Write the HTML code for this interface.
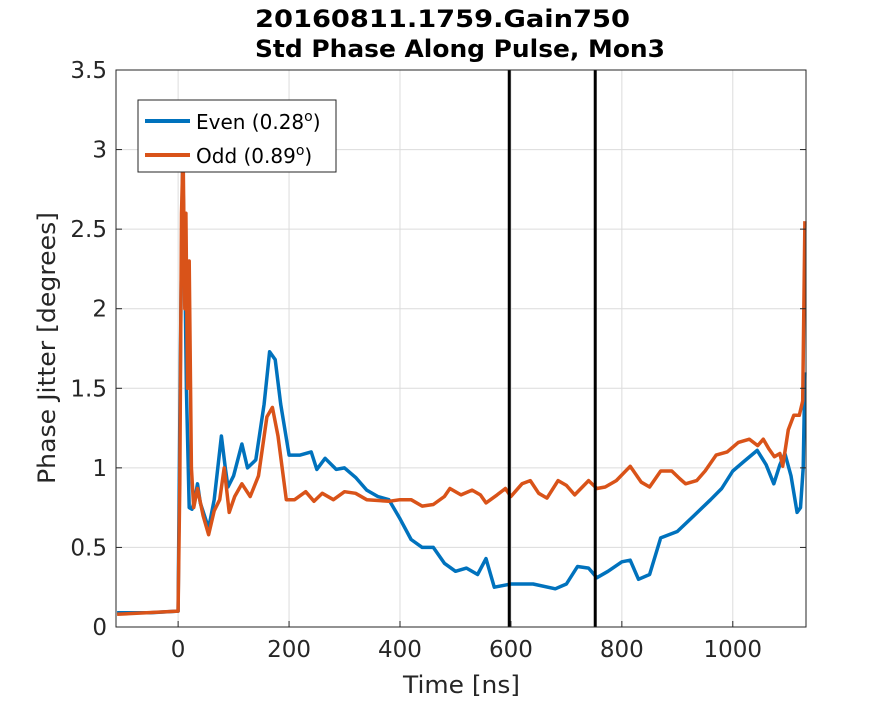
<!DOCTYPE html>
<html><head><meta charset="utf-8"><style>
body{margin:0;background:#fff;font-family:"DejaVu Sans","Liberation Sans",sans-serif}
svg text{font-family:"DejaVu Sans","Liberation Sans",sans-serif}
</style></head><body>
<svg id="chart" width="891" height="703" viewBox="0 0 891 703" xmlns="http://www.w3.org/2000/svg">
<rect width="891" height="703" fill="#fff"/>
<g id="grid"></g>
<g id="marks"></g>
<rect x="116" y="70" width="690" height="557" fill="none" stroke="#262626" stroke-width="1"/>
<g id="ticks"></g>
<text x="255" y="27" textLength="375" lengthAdjust="spacingAndGlyphs" font-size="24" font-weight="bold" fill="#000">20160811.1759.Gain750</text>
<text x="255" y="57" textLength="410" lengthAdjust="spacingAndGlyphs" font-size="24" font-weight="bold" fill="#000">Std Phase Along Pulse, Mon3</text>
<text x="403" y="693" textLength="117" lengthAdjust="spacingAndGlyphs" font-size="24" fill="#262626">Time [ns]</text>
<text transform="translate(55,484) rotate(-90)" textLength="272" lengthAdjust="spacingAndGlyphs" font-size="24" fill="#262626">Phase Jitter [degrees]</text>
<g>
<rect x="138" y="100" width="198" height="72" fill="#fff" stroke="#262626" stroke-width="1"/>
<line x1="145" y1="121" x2="190" y2="121" stroke="#0072BD" stroke-width="4"/>
<text x="196" y="129" font-size="20" fill="#000">Even (0.28<tspan dy="-8" font-size="14">o</tspan><tspan dy="8">)</tspan></text>
<line x1="145" y1="155" x2="190" y2="155" stroke="#D95319" stroke-width="4"/>
<text x="196" y="163" font-size="20" fill="#000">Odd (0.89<tspan dy="-8" font-size="14">o</tspan><tspan dy="8">)</tspan></text>
</g>
</svg>
<script>
const xTicks=[0,200,400,600,800,1000];
const yTicks=[0,0.5,1,1.5,2,2.5,3,3.5];
const yTickLabels=["0","0.5","1","1.5","2","2.5","3","3.5"];
const markerLines=[597,752];
const evenT=[-110,-50,0,3,5,8,12,15,20,25,30,35,40,55,65,78,85,90,100,115,125,140,155,165,175,185,200,220,240,250,265,285,300,320,340,360,380,400,420,440,460,480,500,520,540,555,570,600,640,680,700,720,740,755,775,800,815,830,850,870,900,930,960,980,1000,1020,1044,1060,1074,1085,1094,1105,1116,1122,1127,1130];
const evenV=[0.09,0.09,0.10,1.3,2.0,2.9,2.3,1.5,0.75,0.74,0.8,0.9,0.78,0.62,0.8,1.2,1.0,0.88,0.95,1.15,1.0,1.05,1.4,1.73,1.68,1.4,1.08,1.08,1.1,0.99,1.06,0.99,1.0,0.94,0.86,0.82,0.80,0.68,0.55,0.50,0.50,0.40,0.35,0.37,0.33,0.43,0.25,0.27,0.27,0.24,0.27,0.38,0.37,0.31,0.35,0.41,0.42,0.30,0.33,0.56,0.60,0.70,0.80,0.87,0.98,1.04,1.11,1.02,0.90,1.02,1.09,0.95,0.72,0.75,1.0,1.6];
const oddT=[-110,0,3,6,9,12,14,17,20,24,28,35,45,55,65,75,83,92,102,115,130,145,160,170,180,195,210,230,245,260,280,300,320,340,380,400,420,440,460,480,490,510,530,545,555,575,590,600,620,635,650,665,685,700,715,740,755,770,790,815,835,850,870,890,905,915,935,950,970,990,1010,1030,1045,1055,1065,1075,1085,1090,1100,1110,1120,1126,1130];
const oddV=[0.08,0.10,0.9,2.6,3.0,2.0,2.6,1.5,2.3,1.0,0.75,0.87,0.7,0.58,0.73,0.8,1.0,0.72,0.82,0.90,0.82,0.95,1.32,1.38,1.2,0.80,0.8,0.85,0.79,0.84,0.80,0.85,0.84,0.80,0.79,0.80,0.80,0.76,0.77,0.82,0.87,0.83,0.86,0.83,0.78,0.83,0.87,0.82,0.90,0.92,0.84,0.81,0.92,0.89,0.83,0.92,0.87,0.88,0.92,1.01,0.91,0.88,0.98,0.98,0.93,0.90,0.92,0.98,1.08,1.10,1.16,1.18,1.14,1.18,1.12,1.07,1.09,1.01,1.24,1.33,1.33,1.42,2.55];
const X0=116,X1=806,Y0=627,Y1=70,TMIN=-112,TMAX=1132,VMAX=3.5;
const xs=t=>X0+(t-TMIN)/(TMAX-TMIN)*(X1-X0);
const ys=v=>Y0-v/VMAX*(Y0-Y1);
const NS="http://www.w3.org/2000/svg";
function mk(tag,attrs,parent){const e=document.createElementNS(NS,tag);for(const k in attrs)e.setAttribute(k,attrs[k]);parent.appendChild(e);return e;}
const grid=document.getElementById('grid'),ticks=document.getElementById('ticks'),marks=document.getElementById('marks');
xTicks.forEach(t=>{
  const l=mk('line',{x1:xs(t),x2:xs(t),y1:Y1,y2:Y0,stroke:'#dcdcdc','stroke-width':1},grid);
  
  
  mk('line',{x1:xs(t),x2:xs(t),y1:Y0,y2:Y0-6,stroke:'#262626'},ticks);
  const tx=mk('text',{x:xs(t),y:Y0+30,'text-anchor':'middle','font-size':23,fill:'#262626'},ticks);
  tx.textContent=String(t);
  
  
});
yTicks.forEach((v,i)=>{
  const l=mk('line',{x1:X0,x2:X1,y1:ys(v),y2:ys(v),stroke:'#dcdcdc','stroke-width':1},grid);
  
  
  mk('line',{x1:X0,x2:X0+6,y1:ys(v),y2:ys(v),stroke:'#262626'},ticks);
  mk('line',{x1:X1,x2:X1-6,y1:ys(v),y2:ys(v),stroke:'#262626'},ticks);
  const tx=mk('text',{x:X0-9,y:ys(v)+8,'text-anchor':'end','font-size':23,fill:'#262626'},ticks);
  tx.textContent=yTickLabels[i];
  
  
});
function series(T,V,color,name){
  const d=T.map((t,i)=>(i?'L':'M')+xs(t).toFixed(1)+','+ys(V[i]).toFixed(1)).join(' ');
  const p=mk('path',{d:d,fill:'none',stroke:color,'stroke-width':3.5,'stroke-linejoin':'round'},marks);
  
  
}
series(evenT,evenV,'#0072BD','even-series-line');
series(oddT,oddV,'#D95319','odd-series-line');
markerLines.forEach(t=>{
  const l=mk('line',{x1:xs(t),x2:xs(t),y1:Y1,y2:Y0,stroke:'#000','stroke-width':3},marks);
  
  
});
</script>
</body></html>
